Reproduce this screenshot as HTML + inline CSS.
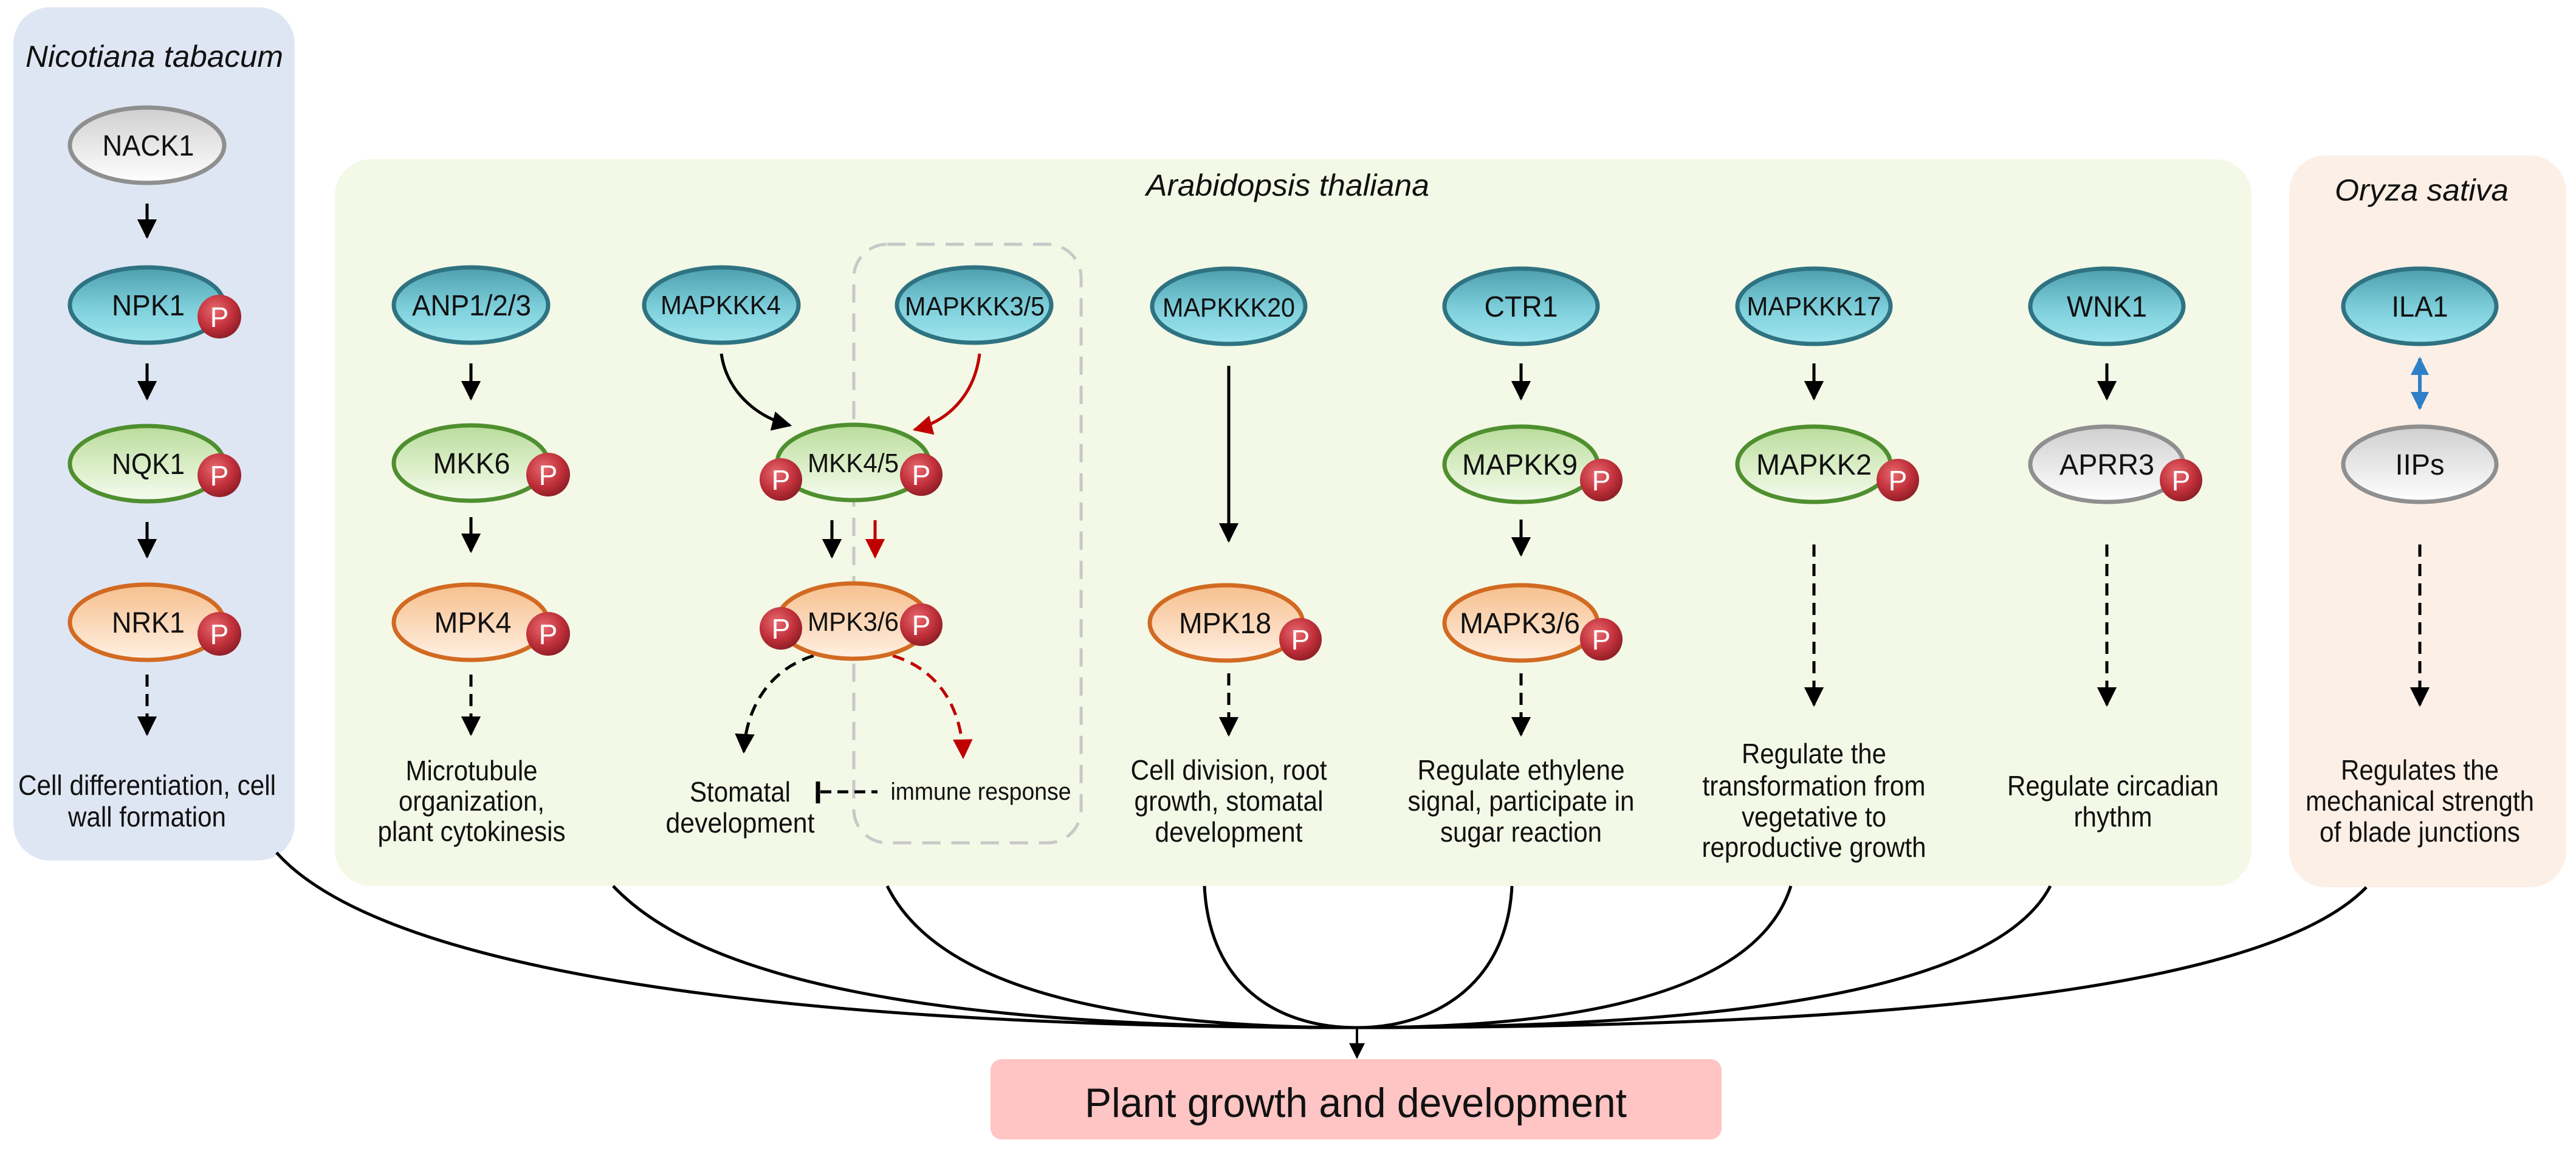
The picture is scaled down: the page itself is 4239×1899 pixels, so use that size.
<!DOCTYPE html>
<html><head><meta charset="utf-8"><style>
html,body{margin:0;padding:0;background:#fff;}
svg{display:block;}
text{font-family:"Liberation Sans",Arial,sans-serif;}
</style></head><body>
<svg width="4239" height="1899" viewBox="0 0 4239 1899" xmlns="http://www.w3.org/2000/svg">
<defs>
<linearGradient id="gT" x1="0" y1="0" x2="0" y2="1"><stop offset="0" stop-color="#4e9fae"/><stop offset="0.55" stop-color="#7fd0dc"/><stop offset="1" stop-color="#9fe6ee"/></linearGradient>
<linearGradient id="gG" x1="0" y1="0" x2="0" y2="1"><stop offset="0" stop-color="#b9dc9c"/><stop offset="0.6" stop-color="#def0cc"/><stop offset="1" stop-color="#f6fbf0"/></linearGradient>
<linearGradient id="gO" x1="0" y1="0" x2="0" y2="1"><stop offset="0" stop-color="#f6c08e"/><stop offset="0.6" stop-color="#fcdcc0"/><stop offset="1" stop-color="#fff1e4"/></linearGradient>
<linearGradient id="gW" x1="0" y1="0" x2="0" y2="1"><stop offset="0" stop-color="#cfcfcf"/><stop offset="0.6" stop-color="#ececec"/><stop offset="1" stop-color="#ffffff"/></linearGradient>
<radialGradient id="gP" cx="0.4" cy="0.35" r="0.7"><stop offset="0" stop-color="#e86a70"/><stop offset="0.6" stop-color="#c0303a"/><stop offset="1" stop-color="#8a1c24"/></radialGradient>
<marker id="ah" viewBox="0 0 10 10" refX="9" refY="5" markerWidth="6.5" markerHeight="6.5" orient="auto-start-reverse" markerUnits="strokeWidth"><path d="M0,0 L10,5 L0,10 z" fill="#000"/></marker>
<marker id="ahr" viewBox="0 0 10 10" refX="9" refY="5" markerWidth="6.5" markerHeight="6.5" orient="auto-start-reverse" markerUnits="strokeWidth"><path d="M0,0 L10,5 L0,10 z" fill="#c00000"/></marker>
<marker id="ahb" viewBox="0 0 10 10" refX="9" refY="5" markerWidth="5" markerHeight="5" orient="auto-start-reverse" markerUnits="strokeWidth"><path d="M0,0 L10,5 L0,10 z" fill="#2f7fc8"/></marker>
</defs>

<rect x="22" y="12" width="463" height="1404" rx="60" fill="#dfe6f3"/>
<rect x="551" y="262" width="3154" height="1196" rx="60" fill="#f3f9e6"/>
<rect x="3767" y="256" width="456" height="1204" rx="60" fill="#fcefe6"/>
<rect x="1630" y="1743" width="1203" height="132" rx="18" fill="#ffc4c4"/>

<rect x="1405" y="402" width="374" height="985" rx="55" fill="none" stroke="#c8c8c8" stroke-width="5" stroke-dasharray="30 18"/>

<g font-style="italic" font-size="50" fill="#111" text-anchor="middle">
<text x="254" y="110" textLength="424" lengthAdjust="spacingAndGlyphs">Nicotiana tabacum</text>
<text x="2119" y="322" textLength="466" lengthAdjust="spacingAndGlyphs">Arabidopsis thaliana</text>
<text x="3985" y="330" textLength="286" lengthAdjust="spacingAndGlyphs">Oryza sativa</text>
</g>

<g fill="none" stroke="#000" stroke-width="5">
<path d="M455,1403 C640,1610 1350,1691 2233,1691"/>
<path d="M1009,1458 C1180,1640 1650,1691 2233,1691"/>
<path d="M1460,1458 C1550,1640 1880,1691 2233,1691"/>
<path d="M1982,1458 C1990,1620 2100,1691 2233,1691"/>
<path d="M2488,1458 C2480,1620 2360,1691 2233,1691"/>
<path d="M2947,1458 C2890,1640 2580,1691 2233,1691"/>
<path d="M3374,1458 C3280,1640 2800,1691 2233,1691"/>
<path d="M3894,1460 C3730,1630 3100,1691 2233,1691"/>
</g>
<line x1="2233" y1="1691" x2="2233" y2="1740" stroke="#000" stroke-width="4" marker-end="url(#ah)"/>
<text x="2231" y="1838" font-size="68" text-anchor="middle" fill="#111" textLength="892" lengthAdjust="spacingAndGlyphs">Plant growth and development</text>

<g stroke="#000" stroke-width="5" fill="none">
<line x1="242" y1="335" x2="242" y2="390" marker-end="url(#ah)"/>
<line x1="242" y1="598" x2="242" y2="656" marker-end="url(#ah)"/>
<line x1="242" y1="859" x2="242" y2="916" marker-end="url(#ah)"/>
<line x1="242" y1="1110" x2="242" y2="1208" stroke-dasharray="20 12" marker-end="url(#ah)"/>
<line x1="775" y1="598" x2="775" y2="656" marker-end="url(#ah)"/>
<line x1="775" y1="851" x2="775" y2="907" marker-end="url(#ah)"/>
<line x1="775" y1="1110" x2="775" y2="1208" stroke-dasharray="20 12" marker-end="url(#ah)"/>
<path d="M1187,582 C1195,640 1240,685 1300,700" marker-end="url(#ah)"/>
<line x1="1369" y1="856" x2="1369" y2="916" marker-end="url(#ah)"/>
<path d="M1339,1079 C1270,1100 1228,1160 1224,1237" stroke-dasharray="20 12" marker-end="url(#ah)"/>
<line x1="1346" y1="1286" x2="1346" y2="1322" stroke-width="7"/>
<line x1="1350" y1="1303" x2="1444" y2="1303" stroke-dasharray="18 10"/>
<line x1="2022" y1="602" x2="2022" y2="890" marker-end="url(#ah)"/>
<line x1="2022" y1="1108" x2="2022" y2="1209" stroke-dasharray="20 12" marker-end="url(#ah)"/>
<line x1="2503" y1="598" x2="2503" y2="656" marker-end="url(#ah)"/>
<line x1="2503" y1="855" x2="2503" y2="913" marker-end="url(#ah)"/>
<line x1="2503" y1="1108" x2="2503" y2="1209" stroke-dasharray="20 12" marker-end="url(#ah)"/>
<line x1="2985" y1="598" x2="2985" y2="656" marker-end="url(#ah)"/>
<line x1="2985" y1="896" x2="2985" y2="1160" stroke-dasharray="20 12" marker-end="url(#ah)"/>
<line x1="3467" y1="598" x2="3467" y2="656" marker-end="url(#ah)"/>
<line x1="3467" y1="896" x2="3467" y2="1160" stroke-dasharray="20 12" marker-end="url(#ah)"/>
<line x1="3982" y1="896" x2="3982" y2="1160" stroke-dasharray="20 12" marker-end="url(#ah)"/>
</g>
<g stroke="#c00000" stroke-width="5" fill="none">
<path d="M1612,582 C1605,640 1570,690 1505,707" marker-end="url(#ahr)"/>
<line x1="1440" y1="856" x2="1440" y2="916" marker-end="url(#ahr)"/>
<path d="M1469,1079 C1540,1100 1583,1160 1585,1246" stroke-dasharray="20 12" marker-end="url(#ahr)"/>
</g>
<line x1="3982" y1="590" x2="3982" y2="672" stroke="#2f7fc8" stroke-width="6" marker-start="url(#ahb)" marker-end="url(#ahb)"/>

<g stroke-width="7">
<g fill="url(#gT)" stroke="#2f7382">
<ellipse cx="775" cy="502" rx="127" ry="62"/>
<ellipse cx="1187" cy="502" rx="127" ry="62"/>
<ellipse cx="1603" cy="502" rx="127" ry="62"/>
<ellipse cx="2022" cy="504" rx="126" ry="62"/>
<ellipse cx="2503" cy="504" rx="126" ry="62"/>
<ellipse cx="2985" cy="504" rx="126" ry="62"/>
<ellipse cx="3467" cy="504" rx="126" ry="62"/>
<ellipse cx="3982" cy="504" rx="126" ry="62"/>
<ellipse cx="242" cy="502" rx="127" ry="62"/>
</g>
<g fill="url(#gW)" stroke="#8f8f8f">
<ellipse cx="242" cy="239" rx="127" ry="62"/>
<ellipse cx="3467" cy="764" rx="126" ry="62"/>
<ellipse cx="3982" cy="764" rx="126" ry="62"/>
</g>
<g fill="url(#gG)" stroke="#4f8f2f">
<ellipse cx="242" cy="763" rx="127" ry="62"/>
<ellipse cx="775" cy="762" rx="127" ry="62"/>
<ellipse cx="1404" cy="761" rx="125" ry="62"/>
<ellipse cx="2503" cy="764" rx="126" ry="62"/>
<ellipse cx="2985" cy="764" rx="126" ry="62"/>
</g>
<g fill="url(#gO)" stroke="#d26a22">
<ellipse cx="242" cy="1024" rx="127" ry="62"/>
<ellipse cx="775" cy="1024" rx="127" ry="62"/>
<ellipse cx="1404" cy="1022" rx="125" ry="62"/>
<ellipse cx="2018" cy="1025" rx="126" ry="62"/>
<ellipse cx="2503" cy="1025" rx="126" ry="62"/>
</g>
</g>

<g font-size="48" fill="#111" text-anchor="middle">
<text x="244" y="256" textLength="151" lengthAdjust="spacingAndGlyphs">NACK1</text>
<text x="244" y="519" textLength="120" lengthAdjust="spacingAndGlyphs">NPK1</text>
<text x="244" y="780" textLength="120" lengthAdjust="spacingAndGlyphs">NQK1</text>
<text x="244" y="1041" textLength="120" lengthAdjust="spacingAndGlyphs">NRK1</text>
<text x="776" y="519" textLength="196" lengthAdjust="spacingAndGlyphs">ANP1/2/3</text>
<text x="776" y="779" textLength="127" lengthAdjust="spacingAndGlyphs">MKK6</text>
<text x="778" y="1041" textLength="127" lengthAdjust="spacingAndGlyphs">MPK4</text>
<text x="1186" y="517" textLength="198" lengthAdjust="spacingAndGlyphs" font-size="44">MAPKKK4</text>
<text x="1604" y="519" textLength="230" lengthAdjust="spacingAndGlyphs" font-size="44">MAPKKK3/5</text>
<text x="1404" y="777" textLength="150" lengthAdjust="spacingAndGlyphs" font-size="44">MKK4/5</text>
<text x="1404" y="1038" textLength="150" lengthAdjust="spacingAndGlyphs" font-size="44">MPK3/6</text>
<text x="2022" y="521" textLength="218" lengthAdjust="spacingAndGlyphs" font-size="44">MAPKKK20</text>
<text x="2503" y="521" textLength="121" lengthAdjust="spacingAndGlyphs">CTR1</text>
<text x="2985" y="519" textLength="221" lengthAdjust="spacingAndGlyphs" font-size="44">MAPKKK17</text>
<text x="3467" y="521" textLength="132" lengthAdjust="spacingAndGlyphs">WNK1</text>
<text x="3982" y="521" textLength="93" lengthAdjust="spacingAndGlyphs">ILA1</text>
<text x="2501" y="781" textLength="190" lengthAdjust="spacingAndGlyphs">MAPKK9</text>
<text x="2985" y="781" textLength="190" lengthAdjust="spacingAndGlyphs">MAPKK2</text>
<text x="3467" y="781" textLength="156" lengthAdjust="spacingAndGlyphs">APRR3</text>
<text x="3982" y="781" textLength="81" lengthAdjust="spacingAndGlyphs">IIPs</text>
<text x="2016" y="1042" textLength="152" lengthAdjust="spacingAndGlyphs">MPK18</text>
<text x="2501" y="1042" textLength="198" lengthAdjust="spacingAndGlyphs">MAPK3/6</text>
</g>

<g font-size="46" fill="#fff" text-anchor="middle">
<circle cx="361" cy="521" r="36" fill="url(#gP)"/><text x="361" y="538">P</text>
<circle cx="361" cy="782" r="36" fill="url(#gP)"/><text x="361" y="799">P</text>
<circle cx="361" cy="1043" r="36" fill="url(#gP)"/><text x="361" y="1060">P</text>
<circle cx="902" cy="781" r="36" fill="url(#gP)"/><text x="902" y="798">P</text>
<circle cx="902" cy="1043" r="36" fill="url(#gP)"/><text x="902" y="1060">P</text>
<circle cx="1285" cy="789" r="35" fill="url(#gP)"/><text x="1285" y="806">P</text>
<circle cx="1516" cy="781" r="35" fill="url(#gP)"/><text x="1516" y="798">P</text>
<circle cx="1285" cy="1034" r="35" fill="url(#gP)"/><text x="1285" y="1051">P</text>
<circle cx="1516" cy="1028" r="35" fill="url(#gP)"/><text x="1516" y="1045">P</text>
<circle cx="2140" cy="1052" r="35" fill="url(#gP)"/><text x="2140" y="1069">P</text>
<circle cx="2635" cy="1052" r="35" fill="url(#gP)"/><text x="2635" y="1069">P</text>
<circle cx="2635" cy="790" r="35" fill="url(#gP)"/><text x="2635" y="807">P</text>
<circle cx="3123" cy="790" r="35" fill="url(#gP)"/><text x="3123" y="807">P</text>
<circle cx="3589" cy="790" r="35" fill="url(#gP)"/><text x="3589" y="807">P</text>
</g>

<g font-size="46" fill="#111" text-anchor="middle">
<text x="242" y="1308" textLength="424" lengthAdjust="spacingAndGlyphs">Cell differentiation, cell</text>
<text x="242" y="1360" textLength="260" lengthAdjust="spacingAndGlyphs">wall formation</text>
<text x="776" y="1284" textLength="217" lengthAdjust="spacingAndGlyphs">Microtubule</text>
<text x="776" y="1334" textLength="240" lengthAdjust="spacingAndGlyphs">organization,</text>
<text x="776" y="1384" textLength="309" lengthAdjust="spacingAndGlyphs">plant cytokinesis</text>
<text x="1218" y="1319" textLength="166" lengthAdjust="spacingAndGlyphs">Stomatal</text>
<text x="1218" y="1370" textLength="245" lengthAdjust="spacingAndGlyphs">development</text>
<text x="1614" y="1316" textLength="297" lengthAdjust="spacingAndGlyphs" font-size="40">immune response</text>
<text x="2022" y="1283" textLength="323" lengthAdjust="spacingAndGlyphs">Cell division, root</text>
<text x="2022" y="1334" textLength="311" lengthAdjust="spacingAndGlyphs">growth, stomatal</text>
<text x="2022" y="1385" textLength="243" lengthAdjust="spacingAndGlyphs">development</text>
<text x="2503" y="1283" textLength="341" lengthAdjust="spacingAndGlyphs">Regulate ethylene</text>
<text x="2503" y="1334" textLength="373" lengthAdjust="spacingAndGlyphs">signal, participate in</text>
<text x="2503" y="1385" textLength="266" lengthAdjust="spacingAndGlyphs">sugar reaction</text>
<text x="2985" y="1256" textLength="238" lengthAdjust="spacingAndGlyphs">Regulate the</text>
<text x="2985" y="1309" textLength="367" lengthAdjust="spacingAndGlyphs">transformation from</text>
<text x="2985" y="1360" textLength="238" lengthAdjust="spacingAndGlyphs">vegetative to</text>
<text x="2985" y="1410" textLength="369" lengthAdjust="spacingAndGlyphs">reproductive growth</text>
<text x="3477" y="1309" textLength="348" lengthAdjust="spacingAndGlyphs">Regulate circadian</text>
<text x="3477" y="1360" textLength="129" lengthAdjust="spacingAndGlyphs">rhythm</text>
<text x="3982" y="1283" textLength="260" lengthAdjust="spacingAndGlyphs">Regulates the</text>
<text x="3982" y="1334" textLength="376" lengthAdjust="spacingAndGlyphs">mechanical strength</text>
<text x="3982" y="1385" textLength="330" lengthAdjust="spacingAndGlyphs">of blade junctions</text>
</g>
</svg>
</body></html>
